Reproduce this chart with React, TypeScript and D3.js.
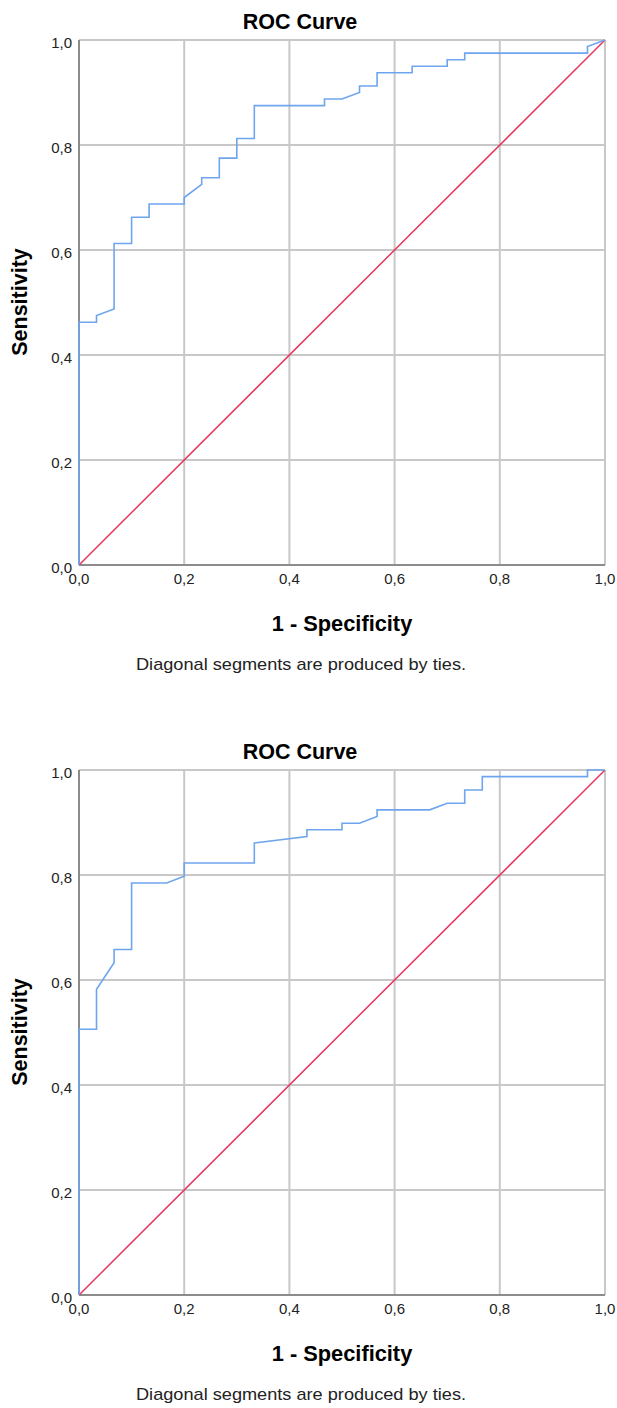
import React from "react";
import * as d3 from "d3";

// ROC points (1 - specificity, sensitivity)
const roc1Fpr = [0, 0, 0.0333, 0.0333, 0.0667, 0.0667, 0.1, 0.1, 0.1333, 0.1333, 0.2, 0.2, 0.2333, 0.2333, 0.2667, 0.2667, 0.3, 0.3, 0.3333, 0.3333, 0.4667, 0.4667, 0.5, 0.5333, 0.5333, 0.5667, 0.5667, 0.6333, 0.6333, 0.7, 0.7, 0.7333, 0.7333, 0.9667, 0.9667, 1];
const roc1Tpr = [0, 0.4625, 0.4625, 0.475, 0.4875, 0.6125, 0.6125, 0.6625, 0.6625, 0.6875, 0.6875, 0.7, 0.725, 0.7375, 0.7375, 0.775, 0.775, 0.8125, 0.8125, 0.875, 0.875, 0.8875, 0.8875, 0.9, 0.9125, 0.9125, 0.9375, 0.9375, 0.95, 0.95, 0.9625, 0.9625, 0.975, 0.975, 0.9875, 1];

const roc2Fpr = [0, 0, 0.0333, 0.0333, 0.0667, 0.0667, 0.1, 0.1, 0.1667, 0.2, 0.2, 0.3333, 0.3333, 0.4333, 0.4333, 0.5, 0.5, 0.5333, 0.5667, 0.5667, 0.6667, 0.7, 0.7333, 0.7333, 0.7667, 0.7667, 0.9667, 0.9667, 1];
const roc2Tpr = [0, 0.5063, 0.5063, 0.5823, 0.6329, 0.6582, 0.6582, 0.7848, 0.7848, 0.7975, 0.8228, 0.8228, 0.8608, 0.8734, 0.8861, 0.8861, 0.8987, 0.8987, 0.9114, 0.9241, 0.9241, 0.9367, 0.9367, 0.962, 0.962, 0.9873, 0.9873, 1, 1];

const tickValues = [0, 0.2, 0.4, 0.6, 0.8, 1];
const tickLabels = ["0,0", "0,2", "0,4", "0,6", "0,8", "1,0"];

const font = "'Liberation Sans', Arial, sans-serif";

const RocChart = ({ fpr, tpr, top }) => {
  // plot area
  const left = 79;
  const right = 605;
  const plotTop = top + 40;
  const plotBottom = top + 565;

  const x = d3.scaleLinear().domain([0, 1]).range([left, right]);
  const y = d3.scaleLinear().domain([0, 1]).range([plotBottom, plotTop]);

  const points = fpr.map((f, i) => [f, tpr[i]]);
  const line = d3.line().x((d) => x(d[0])).y((d) => y(d[1]));

  return (
    <g>
      <text x={300} y={top + 29} textAnchor="middle" fontSize={21.5} fontWeight="bold" fontFamily={font} fill="#000">
        ROC Curve
      </text>

      {/* grid */}
      {tickValues.map((t) => (
        <line key={"gx" + t} x1={x(t)} x2={x(t)} y1={plotTop} y2={plotBottom} stroke="#c8c8c8" strokeWidth={2} />
      ))}
      {tickValues.map((t) => (
        <line key={"gy" + t} x1={left} x2={right} y1={y(t)} y2={y(t)} stroke="#c8c8c8" strokeWidth={2} />
      ))}

      {/* axes */}
      <line x1={left} x2={left} y1={plotTop} y2={plotBottom} stroke="#8c8c8c" strokeWidth={2} />
      <line x1={left} x2={right} y1={plotBottom} y2={plotBottom} stroke="#8c8c8c" strokeWidth={2} />

      {/* reference line */}
      <path d={line([[0, 0], [1, 1]])} stroke="#e6365f" strokeWidth={1.5} fill="none" />

      {/* curve */}
      <path d={line(points)} stroke="#6ea5ee" strokeWidth={1.6} fill="none" />

      {/* tick labels */}
      {tickValues.map((t, i) => (
        <text key={"ty" + t} x={72} y={y(t) + 8} textAnchor="end" fontSize={15} fontFamily={font} fill="#222">
          {tickLabels[i]}
        </text>
      ))}
      {tickValues.map((t, i) => (
        <text key={"tx" + t} x={x(t)} y={plotBottom + 19} textAnchor="middle" fontSize={15} fontFamily={font} fill="#222">
          {tickLabels[i]}
        </text>
      ))}

      <text x={342} y={top + 631} textAnchor="middle" fontSize={21.8} fontWeight="bold" fontFamily={font} fill="#000">
        1 - Specificity
      </text>
      <text transform={`translate(27,${top + 302}) rotate(-90)`} textAnchor="middle" fontSize={21.5} fontWeight="bold" fontFamily={font} fill="#000">
        Sensitivity
      </text>

      <text x={301} y={top + 670} textAnchor="middle" fontSize={17} textLength={330} lengthAdjust="spacingAndGlyphs" fontFamily={font} fill="#222">
        Diagonal segments are produced by ties.
      </text>
    </g>
  );
};

export default function App() {
  return (
    <svg width={617} height={1408} style={{ position: "absolute", left: 0, top: 0, background: "#fff" }}>
      <rect width={617} height={1408} fill="#fff" />
      <RocChart fpr={roc1Fpr} tpr={roc1Tpr} top={0} />
      <RocChart fpr={roc2Fpr} tpr={roc2Tpr} top={730} />
    </svg>
  );
}
